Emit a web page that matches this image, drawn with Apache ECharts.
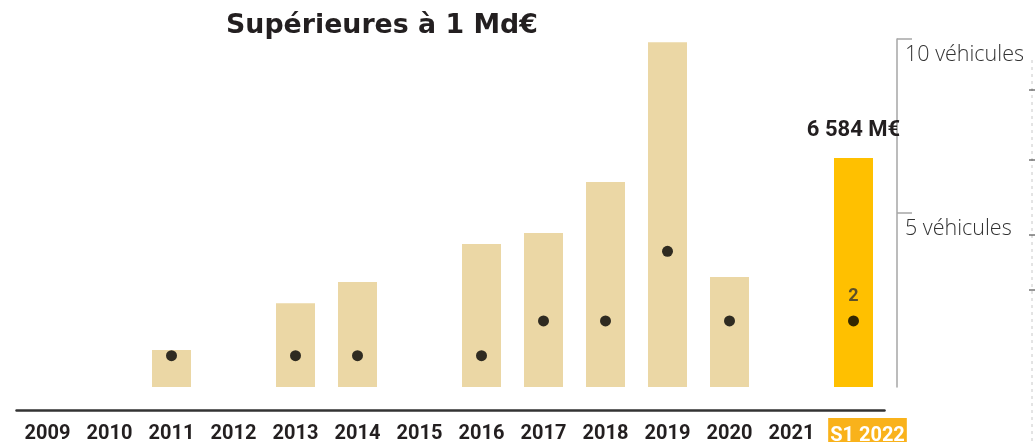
<!DOCTYPE html>
<html>
<head>
<meta charset="utf-8">
<script src="https://cdn.jsdelivr.net/npm/echarts@6/dist/echarts.min.js"></script>
<style>
html,body{margin:0;padding:0;background:#fff;}
#chart{width:1035px;height:442px;}
</style>
</head>
<body>
<div id="chart"></div>
<script>
// Data
var categories = ['2009','2010','2011','2012','2013','2014','2015','2016','2017','2018','2019','2020','2021','S1 2022'];
var amounts = [null, null, 1060, null, 2410, 3020, null, 4110, 4425, 5890, 9910, 3160, null, 6584];
var vehicles = [null, null, 1, null, 1, 1, null, 1, 2, 2, 4, 2, null, 2];
var vehicleTicks = [5, 10];
var titleText = 'Supérieures à 1 Md€';
var highlightLabel = '6 584 M€';

var chart = echarts.init(document.getElementById('chart'));
var last = categories.length - 1;

var barData = amounts.map(function(v, i){
  if (i === last) {
    return {value: v, itemStyle:{color:'#FFC000'},
      label:{show:true, position:'top', distance:16, formatter: highlightLabel,
        fontFamily:'Roboto', fontWeight:'bold', fontSize:22, color:'#231F20', letterSpacing:-1}};
  }
  return v;
});
var dotData = vehicles.map(function(v, i){
  if (i === last) {
    return {value: v, label:{show:true, position:'top', distance:10, formatter:'{c}',
      fontFamily:'Roboto', fontWeight:'bold', fontSize:18, color:'#333'}};
  }
  return v;
});

chart.setOption({
  animation:false,
  title:{text:titleText, left:226, top:13, padding:0,
    textStyle:{fontFamily:'DejaVu Sans', fontWeight:'bold', fontSize:26.8, color:'#231F20'}},
  grid:{left:16.5, right:150.5, top:39, bottom:55, outerBoundsMode:'none', containLabel:false},
  xAxis:{type:'category', data:categories, offset:23,
    axisLine:{onZero:false, lineStyle:{color:'#333', width:2.5}},
    axisTick:{show:false},
    axisLabel:{interval:0, margin:8,
      formatter:function(v){ return v === categories[last] ? '{sp|}{hl|' + v + '}' : '{n|' + v + '}'; },
      rich:{
        n:{fontFamily:'Roboto', fontWeight:'bold', fontSize:20, color:'#231F20', padding:[6,0,0,0]},
        sp:{width:28},
        hl:{backgroundColor:'#F9B21B', color:'#fff', fontFamily:'Roboto', fontWeight:'bold', fontSize:20, padding:[8,2,8,2]}
      }}
  },
  yAxis:[
    {type:'value', min:0, max:10000, show:false, splitLine:{show:false}},
    {type:'value', min:0, max:10, interval:5, position:'right', offset:12.5,
      splitLine:{show:false},
      axisLine:{show:true, lineStyle:{color:'#A6A6A6', width:1.5}},
      axisTick:{show:true, length:15, customValues:vehicleTicks, lineStyle:{color:'#A6A6A6', width:1.5}},
      axisLabel:{show:true, customValues:vehicleTicks, margin:8, verticalAlign:'top', padding:[5,0,0,0],
        fontFamily:'Open Sans', fontWeight:300, fontSize:21.5, color:'#333',
        formatter:function(v){ return v + ' véhicules'; }}
    }
  ],
  series:[
    {type:'bar', yAxisIndex:0, data:barData, barWidth:39, itemStyle:{color:'#EBD7A5'}, z:1},
    {type:'scatter', yAxisIndex:1, data:dotData, symbol:'circle', symbolSize:11, symbolOffset:[0,3.5], itemStyle:{color:'#000'}, z:3}
  ],
  graphic:[
    {type:'line', shape:{x1:1032, y1:60, x2:1032, y2:442}, style:{stroke:'#C8C8C8', lineWidth:1, lineDash:[3,4]}},
    {type:'line', shape:{x1:1029, y1:90, x2:1035, y2:90}, style:{stroke:'#333', lineWidth:1}},
    {type:'line', shape:{x1:1029, y1:160, x2:1035, y2:160}, style:{stroke:'#333', lineWidth:1}},
    {type:'line', shape:{x1:1029, y1:235, x2:1035, y2:235}, style:{stroke:'#333', lineWidth:1}},
    {type:'line', shape:{x1:1029, y1:290, x2:1035, y2:290}, style:{stroke:'#333', lineWidth:1}}
  ]
});
</script>
</body>
</html>
